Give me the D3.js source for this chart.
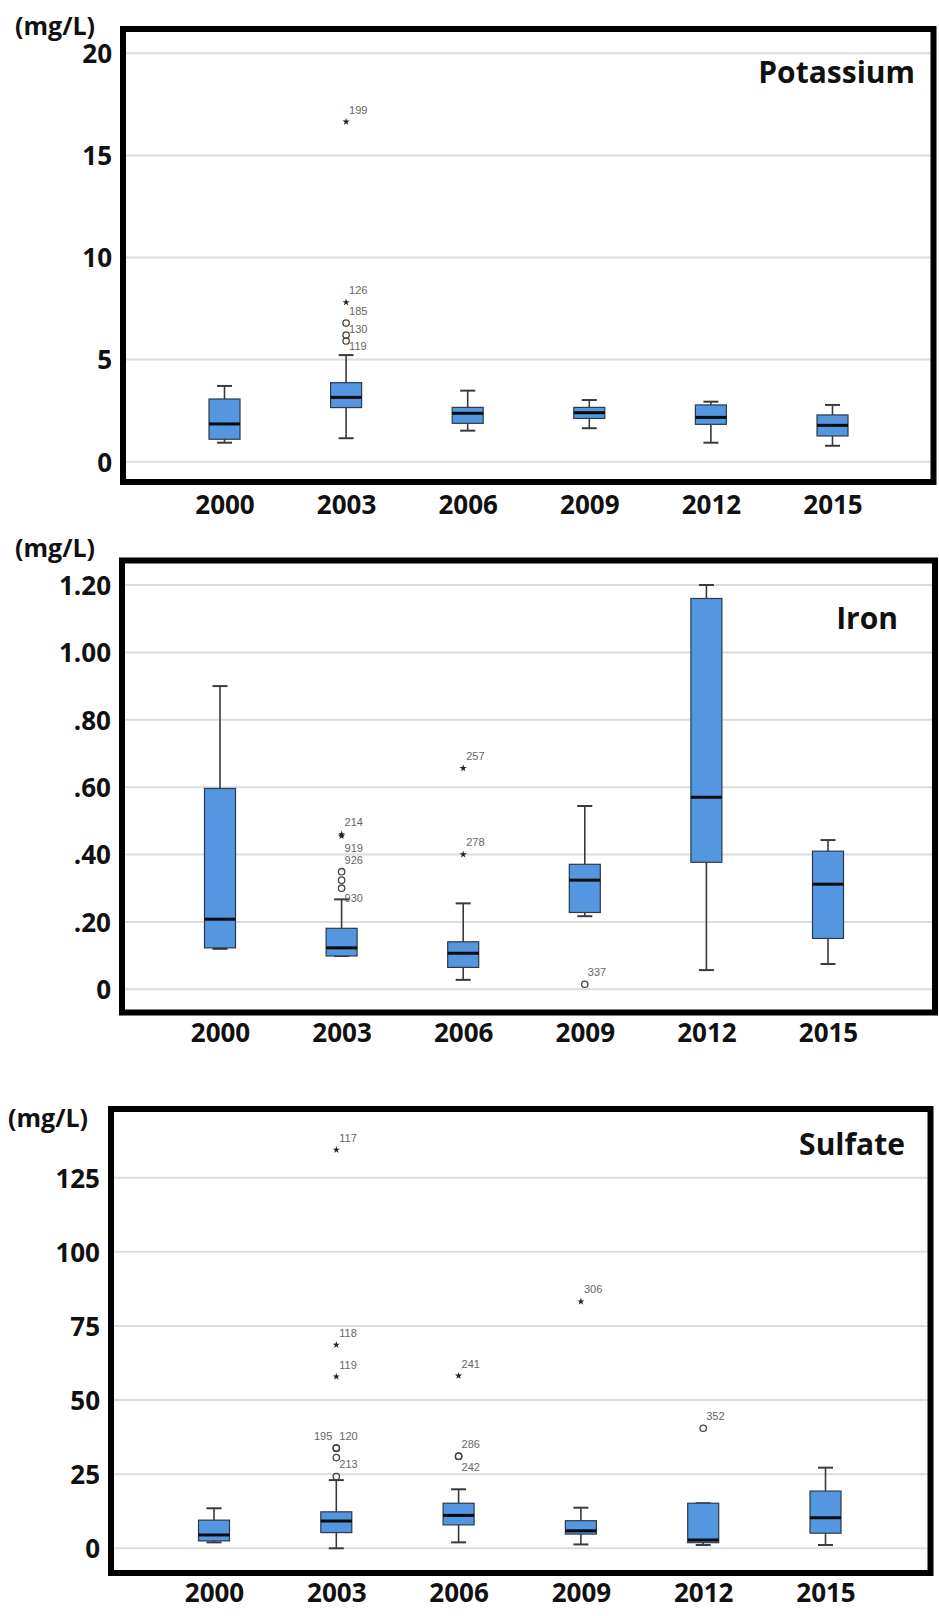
<!DOCTYPE html>
<html>
<head>
<meta charset="utf-8">
<script src="https://cdn.jsdelivr.net/npm/d3@7"></script>
<style>
    body { margin: 0; background: #fff; }
    svg { display: block; }
</style>
</head>
<body>
<div class="chart"></div>
<script>
// 年份 (x 軸分類)
const years = ['2000', '2003', '2006', '2009', '2012', '2015'];

// Potassium 鉀 (mg/L) - 盒鬚圖五數
const kLow  = [0.93, 1.15, 1.52, 1.64, 0.93, 0.78];
const kQ1   = [1.10, 2.65, 1.88, 2.12, 1.83, 1.26];
const kMed  = [1.85, 3.15, 2.37, 2.40, 2.17, 1.78];
const kQ3   = [3.07, 3.87, 2.66, 2.66, 2.78, 2.29];
const kHigh = [3.71, 5.22, 3.48, 3.02, 2.94, 2.78];
const kTicks = [0, 5, 10, 15, 20];
const kTickLabels = ['0', '5', '10', '15', '20'];
// 離群值 [年份, 數值, 符號(* 極端 / o 離群), 編號]
const kOutliers = [
    ['2003', 16.65, '*', '199'],
    ['2003', 7.8, '*', '126'],
    ['2003', 6.79, 'o', '185'],
    ['2003', 6.2, 'o', '130'],
    ['2003', 5.91, 'o', '119']
];

// Iron 鐵
const feLow  = [0.12, 0.099, 0.028, 0.217, 0.057, 0.075];
const feQ1   = [0.123, 0.099, 0.065, 0.228, 0.377, 0.151];
const feMed  = [0.208, 0.123, 0.107, 0.324, 0.570, 0.312];
const feQ3   = [0.596, 0.181, 0.141, 0.371, 1.16, 0.41];
const feHigh = [0.90, 0.267, 0.255, 0.544, 1.20, 0.443];
const feTicks = [0, 0.2, 0.4, 0.6, 0.8, 1.0, 1.2];
const feTickLabels = ['0', '.20', '.40', '.60', '.80', '1.00', '1.20'];
const feOutliers = [
    ['2003', 0.46, '*', '214'],
    ['2003', 0.455, '*', '919'],
    ['2003', 0.349, 'o', '926'],
    ['2003', 0.324, 'o', ''],
    ['2003', 0.30, 'o', '930'],
    ['2006', 0.656, '*', '257'],
    ['2006', 0.40, '*', '278'],
    ['2009', 0.015, 'o', '337']
];

// Sulfate 硫酸鹽
const soLow  = [2.0, 0, 2.0, 1.3, 1.1, 1.1];
const soQ1   = [2.5, 5.3, 7.9, 4.8, 1.9, 5.1];
const soMed  = [4.5, 9.2, 11.1, 5.9, 2.8, 10.3];
const soQ3   = [9.5, 12.3, 15.2, 9.3, 15.2, 19.3];
const soHigh = [13.5, 23.0, 19.9, 13.7, 15.2, 27.2];
const soTicks = [0, 25, 50, 75, 100, 125];
const soTickLabels = ['0', '25', '50', '75', '100', '125'];
const soOutliers = [
    ['2003', 134.4, '*', '117'],
    ['2003', 68.6, '*', '118'],
    ['2003', 57.9, '*', '119'],
    ['2003', 33.9, 'o', '120'],
    ['2003', 33.7, 'o', '195'],
    ['2003', 30.6, 'o', ''],
    ['2003', 24.2, 'o', '213'],
    ['2006', 58.2, '*', '241'],
    ['2006', 31.1, 'o', '286'],
    ['2006', 31.0, 'o', '242'],
    ['2009', 83.2, '*', '306'],
    ['2012', 40.5, 'o', '352']
];

// 版面設定 (每個面板的位置)
const panels = [
    {
        title: 'Potassium', low: kLow, q1: kQ1, med: kMed, q3: kQ3, high: kHigh,
        ticks: kTicks, tickLabels: kTickLabels, outliers: kOutliers, yMax: 20,
        frame: [123, 29, 933.5, 482], yRange: [461.7, 53.3], xRange: [224.5, 832.5],
        titlePos: [915, 83], unitPos: [15, 35], tickRight: 112, xLabelY: 505,
        nudge: {'130': -6, '119': 5}
    },
    {
        title: 'Iron', low: feLow, q1: feQ1, med: feMed, q3: feQ3, high: feHigh,
        ticks: feTicks, tickLabels: feTickLabels, outliers: feOutliers, yMax: 1.2,
        frame: [122, 560.5, 935, 1012.5], yRange: [989.3, 585], xRange: [220, 828],
        titlePos: [898, 629], unitPos: [15, 557], tickRight: 111, xLabelY: 1033,
        nudge: {'919': 12, '930': 10}
    },
    {
        title: 'Sulfate', low: soLow, q1: soQ1, med: soMed, q3: soQ3, high: soHigh,
        ticks: soTicks, tickLabels: soTickLabels, outliers: soOutliers, yMax: 125,
        frame: [111, 1109, 930.5, 1573], yRange: [1548.3, 1177.7], xRange: [214, 825.5],
        titlePos: [905, 1155], unitPos: [8, 1127], tickRight: 100, xLabelY: 1593,
        nudge: {'242': 11, '119': -11}, leftLabels: ['195']
    }
];

const boxFill = '#5596e0';
const boldFont = "'Open Sans', 'DejaVu Sans', sans-serif";

const svg = d3.select('.chart').append('svg')
    .attr('width', 939).attr('height', 1616);

panels.forEach(drawPanel);

function drawPanel(p) {
    const x = d3.scalePoint().domain(years).range(p.xRange);
    const y = d3.scaleLinear().domain([0, p.yMax]).range(p.yRange);
    const [fx0, fy0, fx1, fy1] = p.frame;
    const g = svg.append('g').attr('class', 'panel');

    // 格線
    g.append('g').selectAll('line').data(p.ticks).join('line')
        .attr('x1', fx0 + 3).attr('x2', fx1 - 3)
        .attr('y1', d => y(d)).attr('y2', d => y(d))
        .attr('stroke', '#dcdcdc').attr('stroke-width', 2);

    // y 軸文字
    const yAxis = d3.axisLeft(y).tickValues(p.ticks)
        .tickFormat((d, i) => p.tickLabels[i]).tickSize(0).tickPadding(0);
    const yAxisDraw = g.append('g').attr('transform', `translate(${p.tickRight},0)`).call(yAxis);
    yAxisDraw.select('.domain').remove();
    yAxisDraw.selectAll('text')
        .attr('font-family', boldFont).attr('font-size', 26).attr('font-weight', 700)
        .attr('fill', '#111').attr('dy', '0.36em');

    // x 軸文字
    const xAxis = d3.axisBottom(x).tickSize(0).tickPadding(0);
    const xAxisDraw = g.append('g').attr('transform', `translate(0,${p.xLabelY})`).call(xAxis);
    xAxisDraw.select('.domain').remove();
    xAxisDraw.selectAll('text')
        .attr('font-family', boldFont).attr('font-size', 26).attr('font-weight', 700)
        .attr('fill', '#111').attr('y', 0).attr('dy', '0.36em');

    // 盒鬚圖資料整理
    const boxes = years.map((yr, i) => ({
        year: yr, low: p.low[i], q1: p.q1[i], med: p.med[i], q3: p.q3[i], high: p.high[i]
    }));
    const boxW = 31, capW = 15;

    const bx = g.append('g').selectAll('g').data(boxes).join('g')
        .attr('transform', d => `translate(${x(d.year)},0)`);

    // 鬚
    bx.append('line')
        .attr('y1', d => y(d.high)).attr('y2', d => y(d.low))
        .attr('stroke', '#3a3a3a').attr('stroke-width', 1.6);
    bx.selectAll('.cap').data(d => [d.high, d.low]).join('line').attr('class', 'cap')
        .attr('x1', -capW / 2).attr('x2', capW / 2)
        .attr('y1', d => y(d)).attr('y2', d => y(d))
        .attr('stroke', '#3a3a3a').attr('stroke-width', 2);
    // 盒
    bx.append('rect')
        .attr('x', -boxW / 2).attr('width', boxW)
        .attr('y', d => y(d.q3)).attr('height', d => y(d.q1) - y(d.q3))
        .attr('fill', boxFill).attr('stroke', '#2b3a4a').attr('stroke-width', 1.2);
    // 中位數
    bx.append('line')
        .attr('x1', -boxW / 2).attr('x2', boxW / 2)
        .attr('y1', d => y(d.med)).attr('y2', d => y(d.med))
        .attr('stroke', '#0b0b0b').attr('stroke-width', 3);

    // 離群值
    const outs = p.outliers.map(o => ({year: o[0], value: o[1], kind: o[2], id: o[3]}));
    const og = g.append('g');
    og.selectAll('circle').data(outs.filter(d => d.kind === 'o')).join('circle')
        .attr('cx', d => x(d.year)).attr('cy', d => y(d.value)).attr('r', 3.2)
        .attr('fill', 'none').attr('stroke', '#444').attr('stroke-width', 1.3);
    og.selectAll('path').data(outs.filter(d => d.kind === '*')).join('path')
        .attr('d', d3.symbol(d3.symbolStar, 16))
        .attr('transform', d => `translate(${x(d.year)},${y(d.value)})`)
        .attr('fill', '#222');

    const nudge = p.nudge || {};
    const left = p.leftLabels || [];
    og.selectAll('text').data(outs.filter(d => d.id)).join('text')
        .attr('x', d => left.includes(d.id) ? x(d.year) - 4 : x(d.year) + 3)
        .attr('y', d => y(d.value) + (nudge[d.id] !== undefined ? nudge[d.id] : -12))
        .attr('dy', '0.35em')
        .attr('text-anchor', d => left.includes(d.id) ? 'end' : 'start')
        .attr('font-family', "'Liberation Sans', Arial, sans-serif")
        .attr('font-size', 11).attr('fill', '#666')
        .text(d => d.id);

    // 外框
    g.append('rect')
        .attr('x', fx0).attr('y', fy0).attr('width', fx1 - fx0).attr('height', fy1 - fy0)
        .attr('fill', 'none').attr('stroke', '#000').attr('stroke-width', 6);

    // 標題與單位
    g.append('text').attr('x', p.titlePos[0]).attr('y', p.titlePos[1])
        .attr('text-anchor', 'end')
        .attr('font-family', boldFont).attr('font-size', 30).attr('font-weight', 700)
        .attr('fill', '#111').text(p.title);
    g.append('text').attr('x', p.unitPos[0]).attr('y', p.unitPos[1])
        .attr('font-family', boldFont).attr('font-size', 25).attr('font-weight', 700)
        .attr('fill', '#111').text('(mg/L)');
}
</script>
</body>
</html>
